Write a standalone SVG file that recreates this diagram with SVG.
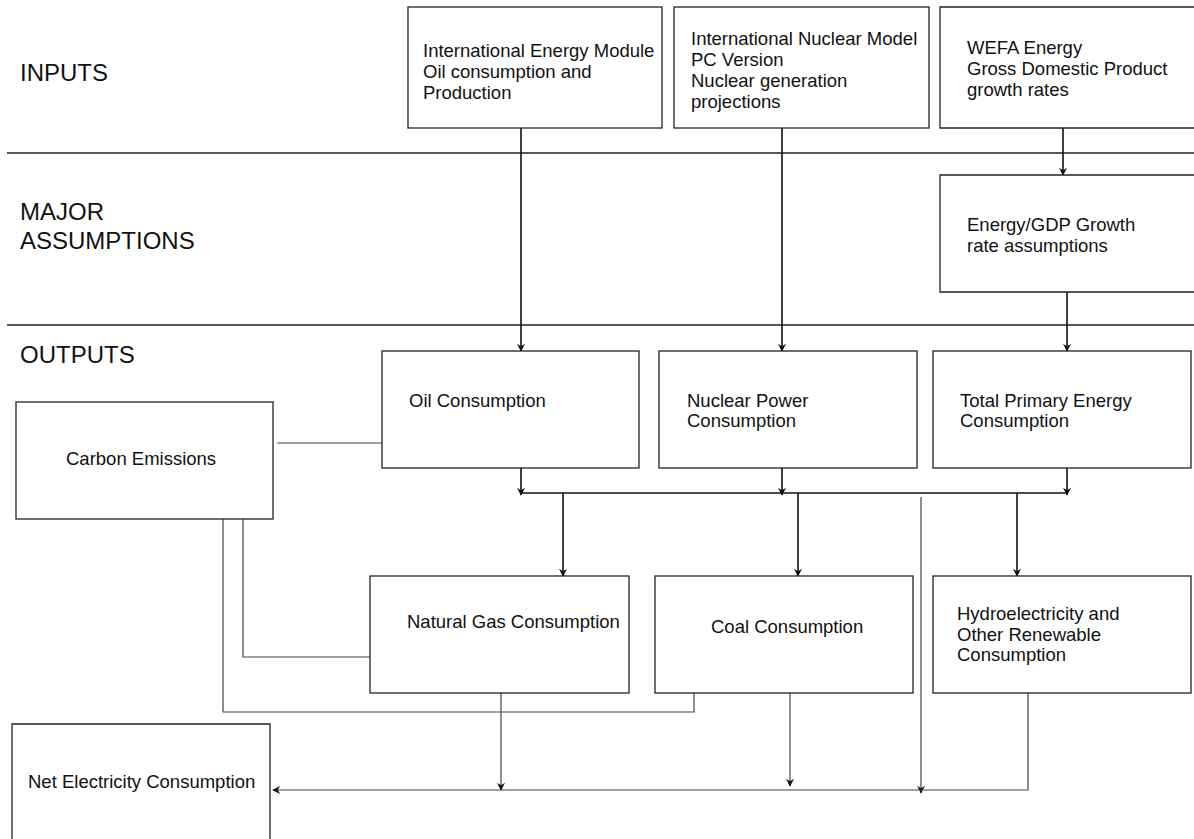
<svg xmlns="http://www.w3.org/2000/svg" width="1194" height="839" viewBox="0 0 1194 839">
  <style>
    .box { fill: #fff; stroke: #222; stroke-width: 1.3; }
    .lbl { font-family: "Liberation Sans", Arial, sans-serif; font-size: 18.5px; fill: #111; }
    .band { font-family: "Liberation Sans", Arial, sans-serif; font-size: 24px; fill: #111; }
    .rule { stroke: #222; stroke-width: 1.3; fill: none; }
    .wire { stroke: #111; stroke-width: 1.6; fill: none; }
    .thin { stroke: #444; stroke-width: 1.2; fill: none; }
  </style>
  <defs>
    <marker id="head" viewBox="0 0 10 10" refX="9" refY="5" markerWidth="8" markerHeight="8" markerUnits="userSpaceOnUse" orient="auto">
      <path d="M0,0 L10,5 L0,10 L3,5 z" fill="#111"/>
    </marker>
  </defs>
  <rect width="1194" height="839" fill="#fff"/>

  <!-- section bands -->
  <g id="bands">
    <line class="rule" x1="7" y1="153" x2="1194" y2="153"/>
    <line class="rule" x1="7" y1="325" x2="1194" y2="325"/>
    <text class="band" x="20" y="81">INPUTS</text>
    <text class="band" x="20" y="220">MAJOR</text>
    <text class="band" x="20" y="249">ASSUMPTIONS</text>
    <text class="band" x="20" y="363">OUTPUTS</text>
  </g>

  <!-- connectors -->
  <g id="connectors">
    <line class="wire" x1="521" y1="128" x2="521" y2="351" marker-end="url(#head)"/>
    <line class="wire" x1="782" y1="128" x2="782" y2="351" marker-end="url(#head)"/>
    <line class="wire" x1="1063" y1="128" x2="1063" y2="175" marker-end="url(#head)"/>
    <line class="wire" x1="1067" y1="292" x2="1067" y2="351" marker-end="url(#head)"/>

    <line class="wire" x1="521" y1="468" x2="521" y2="495" marker-end="url(#head)"/>
    <line class="wire" x1="782" y1="468" x2="782" y2="495" marker-end="url(#head)"/>
    <line class="wire" x1="1067" y1="468" x2="1067" y2="495" marker-end="url(#head)"/>
    <line class="wire" x1="521" y1="493" x2="1067" y2="493"/>

    <line class="wire" x1="563" y1="493" x2="563" y2="576" marker-end="url(#head)"/>
    <line class="wire" x1="798" y1="493" x2="798" y2="576" marker-end="url(#head)"/>
    <line class="wire" x1="1017" y1="493" x2="1017" y2="576" marker-end="url(#head)"/>

    <line class="thin" x1="921" y1="497" x2="921" y2="793" marker-end="url(#head)"/>
    <line class="thin" x1="501" y1="688" x2="501" y2="790" marker-end="url(#head)"/>
    <line class="thin" x1="790" y1="693" x2="790" y2="786" marker-end="url(#head)"/>
    <polyline class="thin" points="1028,693 1028,790 273,790" marker-end="url(#head)"/>

    <line class="thin" x1="277" y1="443" x2="382" y2="443"/>
    <polyline class="thin" points="243,519 243,657 370,657"/>
    <polyline class="thin" points="223,519 223,712 694,712 694,693"/>
  </g>

  <!-- nodes -->
  <g id="ieme">
    <rect class="box" x="408" y="7" width="254" height="121"/>
    <text class="lbl" x="423" y="57">International Energy Module</text>
    <text class="lbl" x="423" y="78">Oil consumption and</text>
    <text class="lbl" x="423" y="99">Production</text>
  </g>
  <g id="inm">
    <rect class="box" x="674" y="7" width="255" height="121"/>
    <text class="lbl" x="691" y="45">International Nuclear Model</text>
    <text class="lbl" x="691" y="66">PC Version</text>
    <text class="lbl" x="691" y="87">Nuclear generation</text>
    <text class="lbl" x="691" y="108">projections</text>
  </g>
  <g id="wefa">
    <path class="box" d="M1196,7 H940 V128 H1196"/>
    <text class="lbl" x="967" y="54">WEFA Energy</text>
    <text class="lbl" x="967" y="75">Gross Domestic Product</text>
    <text class="lbl" x="967" y="96">growth rates</text>
  </g>
  <g id="energy-gdp">
    <path class="box" d="M1196,175 H940 V292 H1196"/>
    <text class="lbl" x="967" y="231">Energy/GDP Growth</text>
    <text class="lbl" x="967" y="252">rate assumptions</text>
  </g>
  <g id="oil">
    <rect class="box" x="382" y="351" width="257" height="117"/>
    <text class="lbl" x="409" y="407">Oil Consumption</text>
  </g>
  <g id="nuclear">
    <rect class="box" x="659" y="351" width="258" height="117"/>
    <text class="lbl" x="687" y="407">Nuclear Power</text>
    <text class="lbl" x="687" y="427">Consumption</text>
  </g>
  <g id="total-primary">
    <rect class="box" x="933" y="351" width="258" height="117"/>
    <text class="lbl" x="960" y="407">Total Primary Energy</text>
    <text class="lbl" x="960" y="427">Consumption</text>
  </g>
  <g id="carbon">
    <rect class="box" x="16" y="402" width="257" height="117"/>
    <text class="lbl" x="66" y="465">Carbon Emissions</text>
  </g>
  <g id="natural-gas">
    <rect class="box" x="370" y="576" width="259" height="117"/>
    <text class="lbl" x="407" y="628">Natural Gas Consumption</text>
  </g>
  <g id="coal">
    <rect class="box" x="655" y="576" width="258" height="117"/>
    <text class="lbl" x="711" y="633">Coal Consumption</text>
  </g>
  <g id="hydro">
    <rect class="box" x="933" y="576" width="258" height="117"/>
    <text class="lbl" x="957" y="620">Hydroelectricity and</text>
    <text class="lbl" x="957" y="641">Other Renewable</text>
    <text class="lbl" x="957" y="661">Consumption</text>
  </g>
  <g id="net-electricity">
    <path class="box" d="M12,841 V724 H270 V841"/>
    <text class="lbl" x="28" y="788">Net Electricity Consumption</text>
  </g>
</svg>
